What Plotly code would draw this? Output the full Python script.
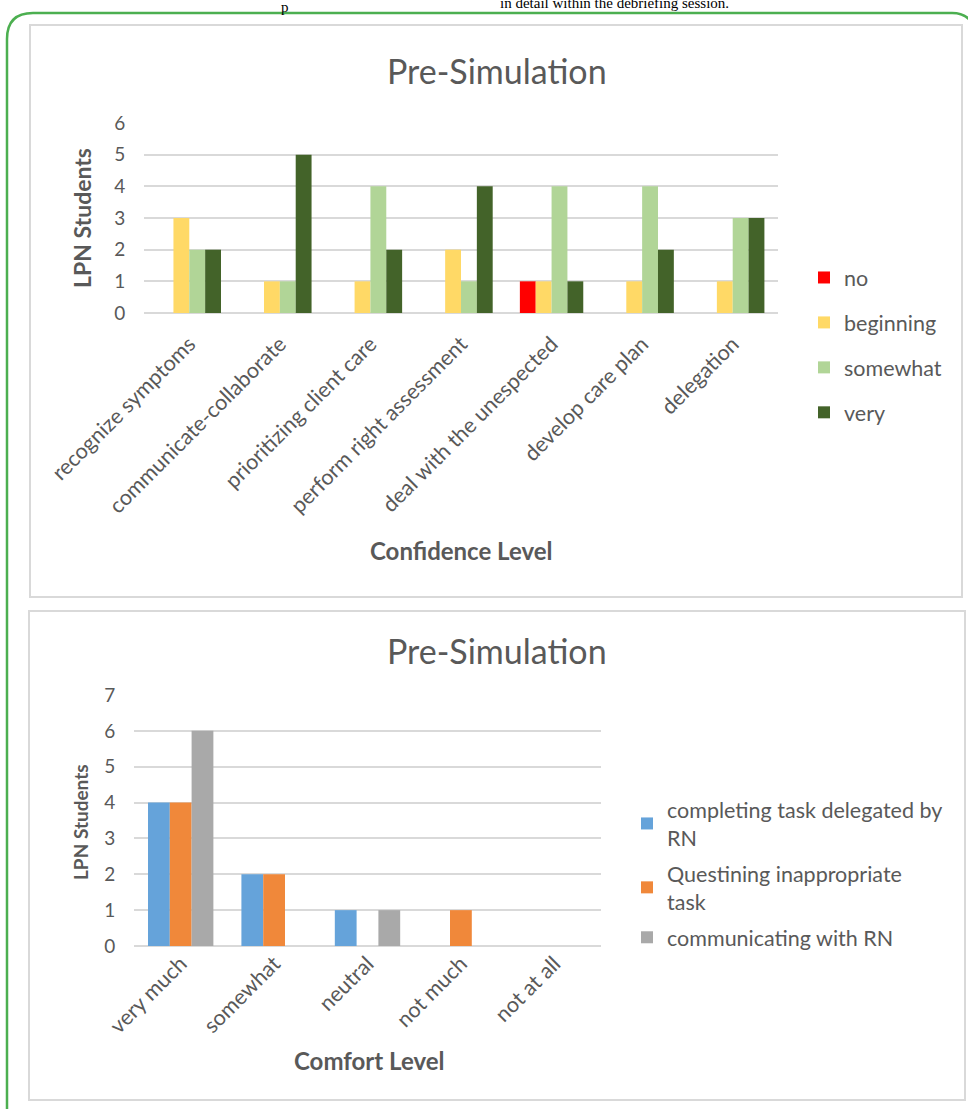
import plotly.graph_objects as go

W, H = 968, 1109

# ---------------- data ----------------
skills = ["recognize symptoms", "communicate-collaborate", "prioritizing client care",
          "perform right assessment", "deal with the unespected", "develop care plan", "delegation"]
conf_levels = ["no", "beginning", "somewhat", "very"]
conf_no = [0, 0, 0, 0, 1, 0, 0]
conf_beginning = [3, 1, 1, 2, 1, 1, 1]
conf_somewhat = [2, 1, 4, 1, 4, 4, 3]
conf_very = [2, 5, 2, 4, 1, 2, 3]
conf_colors = ["#FF0000", "#FFD966", "#B1D597", "#436329"]

comfort = ["very much", "somewhat", "neutral", "not much", "not at all"]
comp_task = [4, 2, 1, 0, 0]
quest_task = [4, 2, 0, 1, 0]
comm_rn = [6, 0, 1, 0, 0]
comfort_names = ["completing task delegated by<br>RN", "Questining inappropriate<br>task", "communicating with RN"]
comfort_colors = ["#65A3DA", "#F0883A", "#A9A9A9"]

y1_ticks = [0, 1, 2, 3, 4, 5, 6]
y2_ticks = [0, 1, 2, 3, 4, 5, 6, 7]

FONT = "Lato"
GRAY = "#595959"
GRID = "#D9D9D9"


def px(x):
    return x / W


def py(y):
    return 1 - y / H


fig = go.Figure()

for name, vals, col in zip(conf_levels, [conf_no, conf_beginning, conf_somewhat, conf_very], conf_colors):
    fig.add_trace(go.Bar(x=skills, y=vals, name=name, marker=dict(color=col, line=dict(width=0)),
                         xaxis="x", yaxis="y", legend="legend", legendgroup=name))

for name, vals, col in zip(comfort_names, [comp_task, quest_task, comm_rn], comfort_colors):
    fig.add_trace(go.Bar(x=comfort, y=vals, name=name, marker=dict(color=col, line=dict(width=0)),
                         xaxis="x2", yaxis="y2", legend="legend2", legendgroup=name))

axis_common = dict(showline=False, automargin=False, tickfont=dict(family=FONT, size=19, color=GRAY))
xtick = dict(showline=False, automargin=False, showgrid=False, tickangle=-45,
             tickcolor="rgba(0,0,0,0)", tickfont=dict(family=FONT, size=21.5, color=GRAY))

fig.update_layout(
    width=W, height=H,
    margin=dict(l=0, r=0, t=0, b=0, autoexpand=False),
    paper_bgcolor="white", plot_bgcolor="white",
    barmode="group", bargap=0.3, bargroupgap=0,
    font=dict(family=FONT, color=GRAY),
    xaxis=dict(domain=[px(144), px(778)], anchor="y", ticks="outside", ticklen=9, **xtick),
    yaxis=dict(domain=[py(313), py(123)], anchor="x", range=[0, 6], tickvals=y1_ticks,
               showgrid=True, gridcolor=GRID, gridwidth=2, zeroline=True, zerolinecolor=GRID,
               zerolinewidth=2, ticks="outside", ticklen=14, tickcolor="rgba(0,0,0,0)", **axis_common),
    xaxis2=dict(domain=[px(134), px(601)], anchor="y2", ticks="", **xtick),
    yaxis2=dict(domain=[py(946), py(695)], anchor="x2", range=[0, 7], tickvals=y2_ticks,
                showgrid=True, gridcolor=GRID, gridwidth=2, zeroline=True, zerolinecolor=GRID,
                zerolinewidth=2, ticks="outside", ticklen=14, tickcolor="rgba(0,0,0,0)", **axis_common),
    legend=dict(x=px(804), y=py(257), xanchor="left", yanchor="top",
                font=dict(family=FONT, size=21.5, color=GRAY), tracegroupgap=14,
                bgcolor="rgba(0,0,0,0)", itemclick=False),
    legend2=dict(x=px(627), y=py(789), xanchor="left", yanchor="top",
                 font=dict(family=FONT, size=21.5, color=GRAY), tracegroupgap=5,
                 bgcolor="rgba(0,0,0,0)", itemclick=False),
    showlegend=True,
)

annotations = [
    dict(text="Pre-Simulation", x=px(497), y=py(70), font=dict(size=34, color=GRAY, family=FONT)),
    dict(text="<b>LPN Students</b>", x=px(82), y=py(218), textangle=-90, font=dict(size=23, color=GRAY, family=FONT)),
    dict(text="<b>Confidence Level</b>", x=px(461), y=py(550), font=dict(size=24, color=GRAY, family=FONT)),
    dict(text="Pre-Simulation", x=px(497), y=py(650), font=dict(size=34, color=GRAY, family=FONT)),
    dict(text="<b>LPN Students</b>", x=px(80), y=py(822), textangle=-90, font=dict(size=19, color=GRAY, family=FONT)),
    dict(text="<b>Comfort Level</b>", x=px(369), y=py(1060), font=dict(size=24, color=GRAY, family=FONT)),
    dict(text="in detail within the debriefing session.", x=px(614), y=py(13), yanchor="bottom",
         font=dict(size=15, color="black", family="Liberation Serif")),
    dict(text="p", x=px(285), y=py(17), yanchor="bottom",
         font=dict(size=15, color="black", family="Liberation Serif")),
]
for a in annotations:
    a.setdefault("yanchor", "middle")
    a.update(xref="paper", yref="paper", showarrow=False, xanchor="center")
fig.update_layout(annotations=annotations)

shapes = [
    dict(type="rect", x0=px(30), x1=px(962), y0=py(597), y1=py(25),
         line=dict(color=GRID, width=2), layer="below"),
    dict(type="rect", x0=px(29), x1=px(965), y0=py(1100), y1=py(611),
         line=dict(color=GRID, width=2), layer="below"),
]
# green rounded frame
r = 26
path = (f"M {px(7)},{py(1125)} L {px(7)},{py(13 + r)} Q {px(7)},{py(13)} {px(7 + r)},{py(13)} "
        f"L {px(952)},{py(13)} Q {px(970)},{py(13)} {px(975)},{py(30)}")
shapes.append(dict(type="path", path=path, line=dict(color="#4CAF50", width=2.5)))
for s in shapes:
    s.setdefault("xref", "paper")
    s.setdefault("yref", "paper")
fig.update_layout(shapes=shapes)

fig.write_html("out.html")
